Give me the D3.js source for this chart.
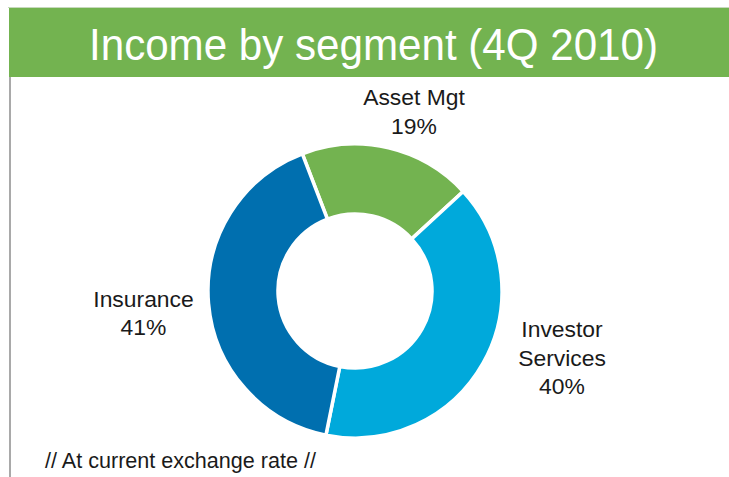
<!DOCTYPE html>
<html>
  <head>
    <meta charset="utf-8">
    <script type="text/javascript" src="https://cdn.jsdelivr.net/npm/d3@7/dist/d3.min.js"></script>
    <style>
      body { margin: 0; background: #fff; }
      text { font-family: "Liberation Sans", Arial, sans-serif; }
      .lbl { font-size: 22px; fill: #1a1a1a; }
    </style>
  </head>
  <body>
    <div id="chart"></div>
  </body>
  <script>
  (function (d3) {
    'use strict';

    // data
    var segments = ['Asset Mgt', 'Investor Services', 'Insurance'];
    var shares = [19, 40, 41];
    var labelLines = [['Asset Mgt', '19%'], ['Investor', 'Services', '40%'], ['Insurance', '41%']];
    var colors = ['#73b350', '#00a9db', '#006faf'];

    var title = 'Income by segment (4Q 2010)';
    var footnote = '// At current exchange rate //';

    var width = 729, height = 477;
    var cx = 355, cy = 291;
    var outerR = 147, innerR = 77;

    var svg = d3.select('#chart')
      .append('svg')
      .attr('width', width)
      .attr('height', height);

    // header
    svg.append('line')
      .attr('x1', 8).attr('x2', width)
      .attr('y1', 7.5).attr('y2', 7.5)
      .attr('stroke', '#c7d9bd').attr('stroke-width', 1);
    svg.append('rect')
      .attr('x', 9).attr('y', 8)
      .attr('width', width - 9).attr('height', 69)
      .attr('fill', '#73b350');
    svg.append('text')
      .attr('x', 89).attr('y', 60)
      .attr('fill', '#fff')
      .style('font-size', '45px')
      .attr('textLength', 569)
      .attr('lengthAdjust', 'spacingAndGlyphs')
      .text(title);

    // left border
    svg.append('line')
      .attr('x1', 10).attr('x2', 10)
      .attr('y1', 77).attr('y2', height)
      .attr('stroke', '#a9a9a9').attr('stroke-width', 2);

    // donut
    var color = d3.scaleOrdinal().domain(segments).range(colors);

    var pie = d3.pie()
      .value(function (d) { return d.v; })
      .sort(null)
      .startAngle(-21 * Math.PI / 180)
      .endAngle(339 * Math.PI / 180);

    var arc = d3.arc().innerRadius(innerR).outerRadius(outerR);

    var data = segments.map(function (s, i) { return { name: s, v: shares[i], lines: labelLines[i] }; });

    var g = svg.append('g')
      .attr('transform', 'translate(' + cx + ',' + cy + ')');

    g.selectAll('path')
      .data(pie(data))
      .enter()
      .append('path')
      .attr('d', arc)
      .attr('fill', function (d) { return color(d.data.name); })
      .attr('stroke', '#fff')
      .attr('stroke-width', 3.5);

    // labels - placed by hand like the slide (text is a bit stretched there)
    var labelAt = { 'Asset Mgt': [59, -186], 'Investor Services': [207, 46], 'Insurance': [-211.5, 15.5] };
    var lineH = 28.7;

    var lbl = g.selectAll('.lbl')
      .data(data)
      .enter()
      .append('text')
      .attr('class', 'lbl')
      .attr('text-anchor', 'middle')
      .attr('transform', function (d) {
        var p = labelAt[d.name];
        return 'translate(' + p[0] + ',' + p[1] + ') scale(1.04,1)';
      });

    lbl.selectAll('tspan')
      .data(function (d) { return d.lines; })
      .enter()
      .append('tspan')
      .attr('x', 0)
      .attr('y', function (d, i) { return i * lineH; })
      .text(function (d) { return d; });

    // footnote
    svg.append('text')
      .attr('x', 45).attr('y', 468)
      .attr('fill', '#1a1a1a')
      .style('font-size', '22px')
      .attr('textLength', 271)
      .attr('lengthAdjust', 'spacingAndGlyphs')
      .text(footnote);
  })(window.d3);
  </script>
</html>
